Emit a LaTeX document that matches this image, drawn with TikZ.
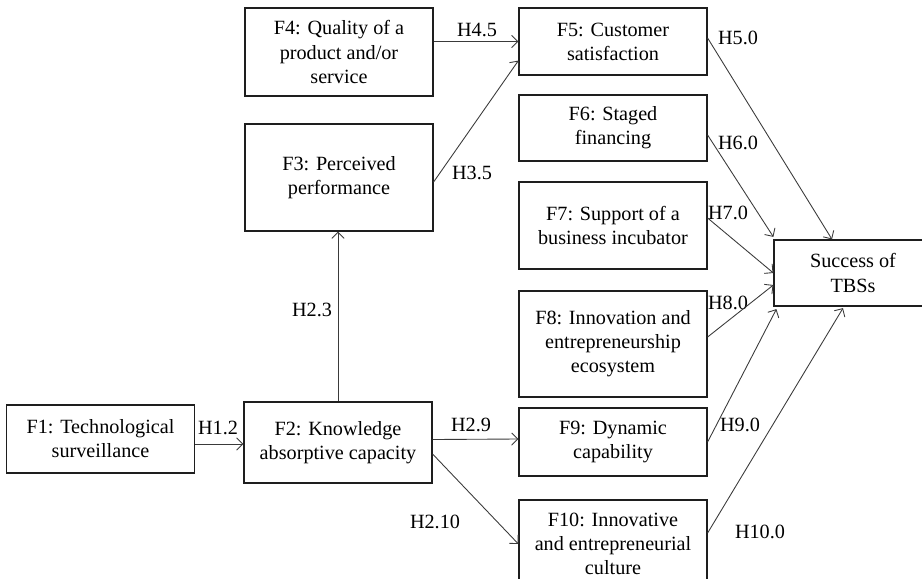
\documentclass[tikz,border=0pt]{standalone}
\usepackage{fontspec}
\setmainfont{Liberation Serif}
\usetikzlibrary{arrows.meta}
\definecolor{ink}{HTML}{1E1E1E}
\definecolor{wire}{HTML}{3A3A3A}

\begin{document}
\begin{tikzpicture}[x=0.02cm,y=-0.02cm,
    box/.style={draw=ink,line width=0.7pt,align=center,inner sep=0pt,minimum width=3.76cm,font=\fontsize{11.5}{13.7}\selectfont},
    hyp/.style={font=\fontsize{11.5}{13.7}\selectfont,inner sep=0pt},
    link/.style={draw=wire,line width=0.5pt,-{Straight Barb[length=3.5pt,width=7pt]}}]
        \useasboundingbox (0,0) rectangle (922,578);
        % factors
        \node[box,minimum height=1.36cm] (F1) at (100.5,439) {F1: Technological\\surveillance};
        \node[box,minimum height=1.62cm] (F2) at (338,442.5) {F2: Knowledge\\absorptive capacity};
        \node[box,minimum height=2.14cm] (F3) at (339,177.5) {F3: Perceived\\performance};
        \node[box,minimum height=1.76cm] (F4) at (339,52) {F4: Quality of a\\product and/or\\service};
        \node[box,minimum height=1.34cm] (F5) at (613,41.5) {F5: Customer\\satisfaction};
        \node[box,minimum height=1.32cm] (F6) at (613,128) {F6: Staged\\financing};
        \node[box,minimum height=1.74cm] (F7) at (613,225.5) {F7: Support of a\\business incubator};
        \node[box,minimum height=2.12cm] (F8) at (613,344) {F8: Innovation and\\entrepreneurship\\ecosystem};
        \node[box,minimum height=1.36cm] (F9) at (613,442) {F9: Dynamic\\capability};
        \node[box,minimum height=1.76cm] (F10) at (613,544) {F10: Innovative\\and entrepreneurial\\culture};
        \node[box,minimum width=3.16cm,minimum height=1.32cm] (TBS) at (853,273) {Success of\\TBSs};
        % hypotheses
        \node[hyp] (h12) at (218,428) {H1.2};
        \node[hyp] (h23) at (312,310) {H2.3};
        \node[hyp] (h35) at (472,173) {H3.5};
        \node[hyp] (h45) at (477,30) {H4.5};
        \node[hyp] (h29) at (471,425) {H2.9};
        \node[hyp] (h210) at (435,522) {H2.10};
        \node[hyp] (h50) at (738,38) {H5.0};
        \node[hyp] (h60) at (738,143) {H6.0};
        \node[hyp] (h70) at (728,213) {H7.0};
        \node[hyp] (h80) at (728,303) {H8.0};
        \node[hyp] (h90) at (740,425) {H9.0};
        \node[hyp] (h100) at (760,532) {H10.0};
        % paths
        \draw[link] ([yshift=-0.1cm]F1.east) -- ([yshift=-0.1cm]F1.east -| F2.west);
        \draw[link] (F2.north) -- (F2.north |- F3.south);
        \draw[link] ([yshift=-0.09cm]F3.east) -- ([yshift=0.3cm]F5.south west);
        \draw[link] (F4.east |- F5.west) -- (F5.west);
        \draw[link] ([yshift=0.06cm]F2.east) -- ([yshift=0.06cm]F9.west);
        \draw[link] ([yshift=-0.23cm]F2.east) -- (F10.west);
        \draw[link] ([yshift=0.07cm]F5.east) -- ([xshift=-0.42cm]TBS.north);
        \draw[link] ([yshift=-0.14cm]F6.east) -- ([yshift=0.05cm]TBS.north west);
        \draw[link] ([yshift=0.15cm]F7.east) -- (TBS.west);
        \draw[link] ([yshift=0.14cm]F8.east) -- ([yshift=-0.24cm]TBS.west);
        \draw[link] (F9.east) -- ([xshift=0.06cm,yshift=-0.05cm]TBS.south west);
        \draw[link] ([yshift=0.22cm]F10.east) -- ([xshift=-0.2cm,yshift=-0.03cm]TBS.south);
\end{tikzpicture}
\end{document}
